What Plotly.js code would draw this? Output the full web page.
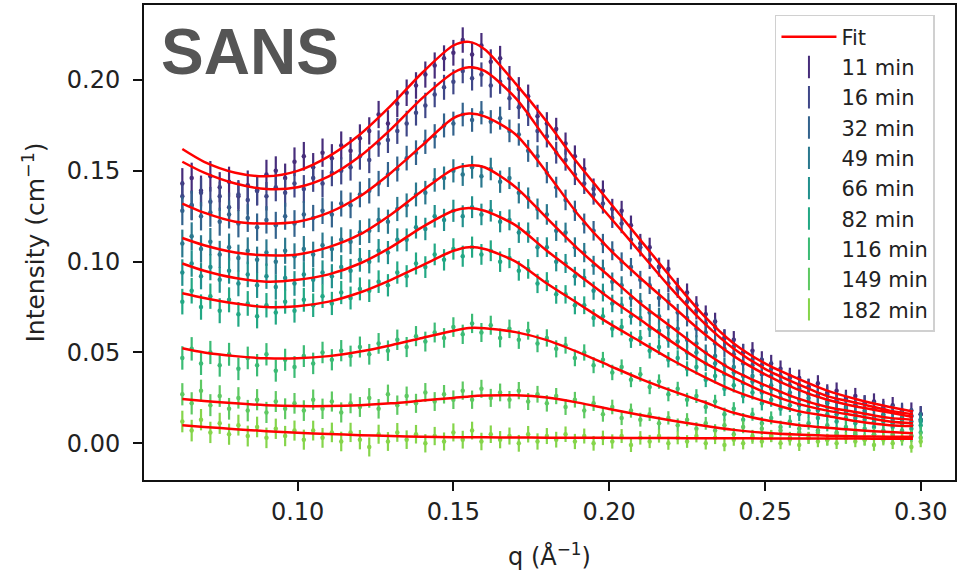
<!DOCTYPE html>
<html>
<head>
<meta charset="utf-8">
<script src="https://cdn.plot.ly/plotly-3.0.1.min.js"></script>
<style>html,body{margin:0;padding:0;background:#fff;}#chart{width:960px;height:573px;}</style>
</head>
<body>
<div id="chart"></div>
<script>
// ---- data ----
const seriesNames = ["11 min","16 min","32 min","49 min","66 min","82 min","116 min","149 min","182 min"];
const seriesColors = ["#472d7b","#3f4788","#33638d","#2a788e","#21908d","#22a884","#3bbb75","#5ec962","#85d54a"];

const q = [0.063,0.066,0.069,0.072,0.075,0.078,0.081,0.084,0.087,0.090,
0.093,0.096,0.099,0.102,0.105,0.108,0.111,0.114,0.117,0.120,
0.123,0.126,0.129,0.132,0.135,0.138,0.141,0.144,0.147,0.150,
0.153,0.156,0.159,0.162,0.165,0.168,0.171,0.174,0.177,0.180,
0.183,0.186,0.189,0.192,0.195,0.198,0.201,0.204,0.207,0.210,
0.213,0.216,0.219,0.222,0.225,0.228,0.231,0.234,0.237,0.240,
0.243,0.246,0.249,0.252,0.255,0.258,0.261,0.264,0.267,0.270,
0.273,0.276,0.279,0.282,0.285,0.288,0.291,0.294,0.297,0.300];

const errQ = [0.0085,0.0085,0.0084,0.0084,0.0083,0.0083,0.0082,0.0082,0.0081,0.0081,
0.0080,0.0080,0.0079,0.0079,0.0078,0.0078,0.0077,0.0077,0.0076,0.0076,
0.0075,0.0075,0.0074,0.0074,0.0073,0.0073,0.0072,0.0072,0.0071,0.0071,
0.0070,0.0070,0.0069,0.0069,0.0068,0.0067,0.0066,0.0065,0.0064,0.0063,
0.0062,0.0061,0.0060,0.0059,0.0058,0.0057,0.0056,0.0055,0.0054,0.0053,
0.0052,0.0052,0.0051,0.0051,0.0050,0.0050,0.0049,0.0049,0.0048,0.0048,
0.0048,0.0047,0.0047,0.0047,0.0046,0.0046,0.0046,0.0046,0.0045,0.0045,
0.0045,0.0045,0.0045,0.0045,0.0045,0.0045,0.0045,0.0045,0.0045,0.0045];
const errScale = [1.0,0.97,0.93,0.9,0.86,0.83,0.76,0.72,0.7];

const d11 = [0.143,0.146,0.139,0.147,0.141,0.144,0.136,0.142,0.139,0.148,
0.150,0.146,0.155,0.158,0.152,0.160,0.157,0.164,0.161,0.168,
0.172,0.181,0.176,0.187,0.193,0.197,0.203,0.208,0.212,0.215,
0.222,0.214,0.219,0.210,0.212,0.201,0.195,0.191,0.180,0.176,
0.173,0.165,0.158,0.151,0.140,0.139,0.129,0.128,0.120,0.110,
0.108,0.097,0.096,0.086,0.083,0.076,0.071,0.067,0.058,0.057,
0.050,0.051,0.046,0.044,0.041,0.037,0.036,0.031,0.033,0.028,
0.029,0.025,0.026,0.022,0.023,0.020,0.021,0.017,0.018,0.016];
const d16 = [0.136,0.131,0.138,0.133,0.136,0.130,0.137,0.134,0.139,0.136,
0.141,0.138,0.143,0.140,0.146,0.143,0.149,0.150,0.152,0.158,
0.156,0.165,0.167,0.172,0.176,0.182,0.186,0.192,0.196,0.199,
0.205,0.201,0.203,0.197,0.199,0.190,0.185,0.181,0.172,0.169,
0.160,0.156,0.148,0.143,0.137,0.132,0.124,0.121,0.112,0.108,
0.101,0.097,0.088,0.085,0.078,0.073,0.066,0.064,0.058,0.053,
0.050,0.046,0.043,0.041,0.037,0.036,0.032,0.031,0.027,0.027,
0.024,0.024,0.021,0.022,0.019,0.019,0.017,0.018,0.015,0.016];
const d32 = [0.128,0.131,0.125,0.127,0.122,0.126,0.121,0.124,0.119,0.123,
0.120,0.125,0.121,0.126,0.124,0.128,0.126,0.132,0.131,0.137,
0.139,0.143,0.148,0.151,0.157,0.160,0.166,0.169,0.175,0.176,
0.181,0.178,0.182,0.177,0.179,0.172,0.170,0.161,0.158,0.149,
0.141,0.134,0.128,0.121,0.117,0.110,0.106,0.100,0.097,0.090,
0.087,0.080,0.078,0.072,0.069,0.063,0.061,0.055,0.052,0.049,
0.044,0.043,0.038,0.037,0.034,0.032,0.030,0.027,0.026,0.023,
0.023,0.020,0.021,0.018,0.019,0.016,0.017,0.014,0.015,0.013];
const d49 = [0.110,0.114,0.107,0.111,0.104,0.108,0.102,0.106,0.101,0.105,
0.100,0.106,0.103,0.107,0.104,0.109,0.107,0.112,0.111,0.116,
0.117,0.123,0.122,0.129,0.131,0.137,0.138,0.145,0.146,0.150,
0.148,0.152,0.147,0.151,0.144,0.146,0.138,0.135,0.129,0.126,
0.117,0.116,0.108,0.105,0.098,0.096,0.089,0.087,0.080,0.078,
0.072,0.070,0.064,0.063,0.057,0.055,0.050,0.048,0.043,0.042,
0.037,0.037,0.032,0.032,0.028,0.028,0.024,0.025,0.021,0.022,
0.018,0.019,0.016,0.017,0.014,0.015,0.013,0.014,0.012,0.013];
const d66 = [0.094,0.099,0.092,0.097,0.090,0.095,0.088,0.093,0.087,0.092,
0.086,0.091,0.088,0.093,0.090,0.094,0.092,0.097,0.095,0.101,
0.100,0.106,0.105,0.112,0.112,0.119,0.118,0.125,0.123,0.128,
0.125,0.130,0.126,0.128,0.122,0.123,0.116,0.116,0.108,0.108,
0.100,0.099,0.092,0.091,0.084,0.083,0.077,0.076,0.070,0.069,
0.063,0.062,0.057,0.056,0.050,0.050,0.044,0.044,0.038,0.039,
0.033,0.034,0.028,0.030,0.025,0.026,0.021,0.023,0.018,0.020,
0.016,0.017,0.014,0.016,0.012,0.014,0.011,0.013,0.010,0.012];
const d82 = [0.078,0.084,0.075,0.081,0.073,0.079,0.071,0.077,0.070,0.076,
0.072,0.078,0.073,0.079,0.076,0.081,0.077,0.083,0.080,0.085,
0.084,0.089,0.087,0.094,0.092,0.099,0.097,0.104,0.101,0.107,
0.103,0.108,0.104,0.106,0.100,0.102,0.095,0.096,0.088,0.089,
0.082,0.082,0.076,0.076,0.069,0.070,0.063,0.064,0.057,0.058,
0.051,0.053,0.046,0.047,0.041,0.042,0.035,0.037,0.030,0.032,
0.026,0.028,0.022,0.024,0.019,0.021,0.016,0.018,0.014,0.016,
0.012,0.014,0.011,0.013,0.009,0.012,0.009,0.011,0.008,0.010];
const d116 = [0.047,0.052,0.044,0.050,0.043,0.049,0.041,0.047,0.043,0.049,
0.040,0.046,0.042,0.048,0.044,0.050,0.046,0.051,0.048,0.053,
0.049,0.055,0.051,0.057,0.053,0.059,0.056,0.061,0.058,0.064,
0.060,0.066,0.061,0.065,0.058,0.063,0.057,0.062,0.055,0.058,
0.052,0.054,0.047,0.050,0.043,0.046,0.039,0.042,0.035,0.038,
0.031,0.034,0.027,0.030,0.024,0.026,0.020,0.023,0.016,0.019,
0.013,0.016,0.011,0.014,0.009,0.012,0.008,0.011,0.007,0.010,
0.006,0.009,0.005,0.008,0.005,0.007,0.004,0.007,0.004,0.006];
const d149 = [0.027,0.022,0.029,0.021,0.026,0.019,0.025,0.018,0.024,0.017,
0.023,0.019,0.022,0.018,0.024,0.019,0.023,0.017,0.022,0.020,
0.025,0.019,0.027,0.021,0.026,0.022,0.028,0.023,0.027,0.024,
0.029,0.024,0.030,0.025,0.028,0.024,0.029,0.023,0.027,0.022,
0.026,0.020,0.024,0.018,0.022,0.016,0.020,0.014,0.018,0.013,
0.016,0.011,0.014,0.010,0.013,0.008,0.011,0.007,0.010,0.005,
0.009,0.004,0.008,0.004,0.007,0.003,0.006,0.003,0.006,0.002,
0.005,0.003,0.006,0.002,0.005,0.003,0.005,0.002,0.004,0.003];
const d182 = [0.012,0.007,0.013,0.006,0.011,0.005,0.010,0.004,0.009,0.003,
0.008,0.004,0.007,0.002,0.007,0.003,0.006,0.001,0.006,0.002,
-0.002,0.005,0.001,0.006,0.002,0.005,0.000,0.004,0.001,0.006,
0.002,0.007,0.001,0.005,0.002,0.004,0.000,0.005,0.001,0.004,
0.002,0.005,0.001,0.004,0.000,0.003,0.001,0.004,-0.001,0.003,
0.001,0.004,0.000,0.003,0.001,0.004,0.000,0.003,-0.001,0.002,
0.000,0.003,0.001,0.004,0.000,0.002,-0.001,0.003,0.001,0.002,
0.000,0.003,0.001,0.002,-0.001,0.002,0.000,0.003,-0.002,0.001];

const fitQ = [0.063,0.07,0.08,0.09,0.10,0.11,0.12,0.13,0.14,0.15,0.155,0.16,0.17,0.18,0.19,0.20,0.21,0.22,0.23,0.24,0.25,0.26,0.27,0.28,0.29,0.2975];
const f11  = [0.162,0.155,0.149,0.147,0.150,0.158,0.170,0.186,0.204,0.219,0.221,0.217,0.198,0.177,0.154,0.133,0.112,0.091,0.071,0.055,0.044,0.036,0.029,0.024,0.020,0.0175];
const f16  = [0.155,0.149,0.143,0.140,0.141,0.147,0.158,0.173,0.190,0.204,0.207,0.205,0.190,0.167,0.145,0.125,0.105,0.085,0.067,0.052,0.041,0.033,0.026,0.022,0.018,0.016];
const f32  = [0.132,0.127,0.122,0.121,0.122,0.127,0.136,0.149,0.164,0.179,0.1815,0.180,0.170,0.149,0.126,0.107,0.091,0.076,0.061,0.048,0.038,0.030,0.024,0.020,0.017,0.0145];
const f49  = [0.113,0.109,0.105,0.1035,0.104,0.108,0.115,0.126,0.139,0.151,0.153,0.152,0.141,0.124,0.107,0.092,0.077,0.064,0.051,0.040,0.032,0.025,0.020,0.017,0.014,0.013];
const f66  = [0.099,0.095,0.091,0.089,0.090,0.093,0.099,0.108,0.119,0.128,0.1295,0.128,0.120,0.106,0.093,0.080,0.068,0.056,0.045,0.036,0.028,0.022,0.018,0.015,0.012,0.011];
const f82  = [0.0826,0.080,0.077,0.075,0.0755,0.078,0.083,0.090,0.098,0.106,0.108,0.107,0.100,0.088,0.077,0.066,0.056,0.046,0.037,0.029,0.023,0.018,0.015,0.012,0.010,0.0095];
const f116 = [0.0523,0.050,0.048,0.0468,0.0468,0.048,0.0505,0.054,0.058,0.062,0.0635,0.0634,0.0612,0.0568,0.0502,0.0428,0.0355,0.029,0.023,0.0168,0.0128,0.0102,0.0085,0.0072,0.0062,0.0055];
const f149 = [0.0244,0.0233,0.022,0.021,0.0205,0.0205,0.021,0.022,0.0235,0.025,0.0258,0.0263,0.0264,0.0252,0.0224,0.0189,0.0156,0.0126,0.0098,0.0074,0.0058,0.0048,0.0042,0.0038,0.0036,0.0036];
const f182 = [0.0099,0.009,0.0078,0.0067,0.0058,0.0051,0.0045,0.004,0.0036,0.0034,0.0033,0.0033,0.0032,0.0031,0.003,0.003,0.0029,0.0029,0.0028,0.0028,0.0027,0.0027,0.0026,0.0026,0.0025,0.0025];

const xTicks = [0.10,0.15,0.20,0.25,0.30];
const yTicks = [0.00,0.05,0.10,0.15,0.20];

// ---- build ----
const dataSets = [d11,d16,d32,d49,d66,d82,d116,d149,d182];
const fitSets = [f11,f16,f32,f49,f66,f82,f116,f149,f182];
const FONT = "DejaVu Sans, sans-serif";
const traces = [];

dataSets.forEach((ys, i) => {
  traces.push({
    type: "scatter", mode: "markers", x: q, y: ys,
    marker: {color: seriesColors[i], size: 4.5},
    error_y: {type: "data", array: errQ.map(e => e * errScale[i]), color: seriesColors[i], thickness: 2.2, width: 0},
    showlegend: false, hoverinfo: "skip"
  });
});
fitSets.forEach((ys, i) => {
  traces.push({
    type: "scatter", mode: "lines", x: fitQ, y: ys,
    line: {color: "#ff0000", width: 2.5, shape: "spline", smoothing: 0.8},
    name: "Fit", showlegend: i === 0, legendrank: 1, hoverinfo: "skip"
  });
});
seriesNames.forEach((nm, i) => {
  traces.push({
    type: "scatter", mode: "markers", x: [null], y: [null], name: nm,
    marker: {symbol: "line-ns", size: 22, color: seriesColors[i], line: {color: seriesColors[i], width: 2}},
    legendrank: i + 2
  });
});

const layout = {
  width: 960, height: 573,
  margin: {l: 144, r: 5, t: 5, b: 93},
  paper_bgcolor: "#fff", plot_bgcolor: "#fff",
  font: {family: FONT, color: "#222", size: 24},
  xaxis: {
    range: [0.0507, 0.311], tickvals: xTicks, tickformat: ".2f",
    ticks: "outside", ticklen: 9, tickwidth: 2, tickcolor: "#111",
    showline: true, linecolor: "#111", linewidth: 2, mirror: true,
    showgrid: false, zeroline: false,
    tickfont: {family: FONT, size: 24, color: "#222"},
    title: {text: "q (Å<sup>−1</sup>)", font: {family: FONT, size: 24, color: "#222"}, standoff: 23}
  },
  yaxis: {
    range: [-0.0202, 0.2413], tickvals: yTicks, tickformat: ".2f",
    ticks: "outside", ticklen: 9, tickwidth: 2, tickcolor: "#111",
    ticklabelstandoff: 8,
    showline: true, linecolor: "#111", linewidth: 2, mirror: true,
    showgrid: false, zeroline: false,
    tickfont: {family: FONT, size: 24, color: "#222"},
    title: {text: "Intensity (cm<sup>−1</sup>)", font: {family: FONT, size: 25, color: "#222"}, standoff: 15}
  },
  legend: {
    x: 0.778, y: 0.979, xanchor: "left", yanchor: "top",
    bgcolor: "rgba(255,255,255,0.9)", bordercolor: "#d0d0d0", borderwidth: 1.5,
    font: {family: FONT, size: 21, color: "#222"},
    itemwidth: 55, tracegroupgap: 0
  },
  annotations: [{
    xref: "paper", yref: "paper", x: 0.0185, y: 0.9, xanchor: "left", yanchor: "middle",
    text: "<b>SANS</b>", showarrow: false,
    font: {family: "Liberation Sans, Arial, sans-serif", size: 64, color: "#555555"}
  }]
};

Plotly.newPlot("chart", traces, layout, {staticPlot: true, displayModeBar: false});
</script>
</body>
</html>
